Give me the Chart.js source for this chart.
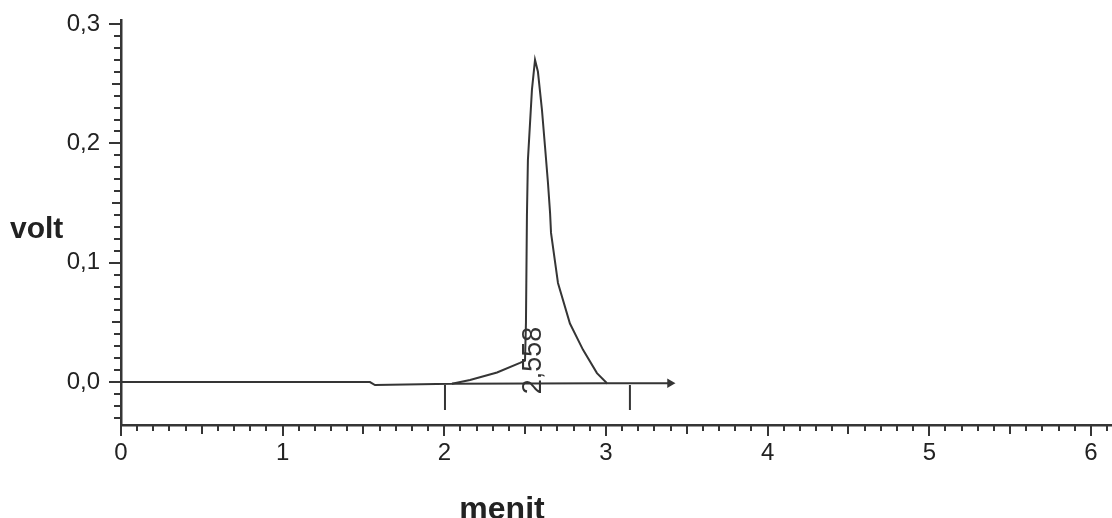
<!DOCTYPE html>
<html>
<head>
<meta charset="utf-8">
<script src="https://cdn.jsdelivr.net/npm/chart.js@4.4.0/dist/chart.umd.min.js"></script>
<style>
  html, body { margin: 0; padding: 0; background: #fff; overflow: hidden; }
  /* 6px lebih lebar: ruang label "6" jatuh di luar jendela */
  #wrap { width: 1118px; height: 518px; position: relative; }
</style>
</head>
<body>
<div id="wrap"><canvas id="kromatogram"></canvas></div>
<script>
// data kromatogram: waktu (menit) dan sinyal (volt)
const waktu = [0, 1.540, 1.571, 2.047, 2.159, 2.326, 2.468, 2.499, 2.505, 2.511, 2.517, 2.542, 2.561,
  2.579, 2.604, 2.623, 2.641, 2.654, 2.660, 2.703, 2.777, 2.858, 2.944, 3.006, 3.396];
const sinyal = [0, 0, -0.0025, -0.0015, 0.0017, 0.008, 0.016, 0.018, 0.05, 0.14, 0.186, 0.245, 0.270,
  0.260, 0.228, 0.197, 0.167, 0.142, 0.125, 0.083, 0.049, 0.027, 0.0075, -0.001, -0.001];

// garis dasar integrasi puncak
const dasarX = [2.047, 3.006];
const dasarY = [-0.0015, -0.001];

// penanda awal/akhir integrasi
const penandaX = [2.004, 3.148];
const penandaY = [-0.0025, -0.0235];

// label waktu retensi
const puncakRT = 2.558;
const puncakY = 0.018;
const puncakLabel = '2,558';

const xTicks = [0, 1, 2, 3, 4, 5, 6];
const yTicks = [0, 0.1, 0.2, 0.3];

const warna = '#353535';
const fontAngka = { family: 'Liberation Sans, Arial, sans-serif', size: 24 };

const dataSinyal = waktu.map(function (t, i) { return { x: t, y: sinyal[i] }; });
const dataDasar = dasarX.map(function (t, i) { return { x: t, y: dasarY[i] }; });
const dataPenanda = [];
penandaX.forEach(function (t, i) {
  if (i > 0) dataPenanda.push({ x: t, y: null });
  dataPenanda.push({ x: t, y: penandaY[0] });
  dataPenanda.push({ x: t, y: penandaY[1] });
});

// ticks kecil, judul sumbu dan label puncak
const pluginSumbu = {
  id: 'pluginSumbu',
  afterDraw: function (chart) {
    const ctx = chart.ctx;
    const sx = chart.scales.x;
    const sy = chart.scales.y;
    const area = chart.chartArea;
    ctx.save();
    ctx.strokeStyle = warna;
    ctx.lineWidth = 2;
    // sumbu x: tiap 0,1 menit
    for (let i = 0; i <= 61; i++) {
      const px = Math.round(sx.getPixelForValue(i / 10));
      const len = i % 10 === 0 ? 11 : (i % 5 === 0 ? 9 : 6);
      ctx.beginPath();
      ctx.moveTo(px, area.bottom);
      ctx.lineTo(px, area.bottom + len);
      ctx.stroke();
    }
    // sumbu y: tiap 0,01 volt
    for (let i = -3; i <= 30; i++) {
      const py = Math.round(sy.getPixelForValue(i / 100));
      const len = i % 10 === 0 ? 12 : (i % 5 === 0 ? 9 : 7);
      ctx.beginPath();
      ctx.moveTo(area.left - len, py);
      ctx.lineTo(area.left, py);
      ctx.stroke();
    }

    ctx.fillStyle = '#222';
    ctx.font = 'bold 30px Liberation Sans, Arial, sans-serif';
    ctx.textAlign = 'left';
    ctx.textBaseline = 'alphabetic';
    ctx.fillText('volt', 10, 238);

    ctx.font = 'bold 32px Liberation Sans, Arial, sans-serif';
    ctx.textAlign = 'center';
    ctx.fillText('menit', area.left + 381, 519);

    // label waktu retensi, diputar
    ctx.fillStyle = '#333';
    ctx.font = '27px Liberation Sans, Arial, sans-serif';
    ctx.translate(sx.getPixelForValue(puncakRT) - 1, sy.getPixelForValue(puncakY));
    ctx.rotate(-Math.PI / 2);
    ctx.textAlign = 'center';
    ctx.textBaseline = 'middle';
    ctx.fillText(puncakLabel, 0, 0);
    ctx.restore();
  }
};

new Chart(document.getElementById('kromatogram'), {
  type: 'scatter',
  data: {
    datasets: [{
      label: 'sinyal',
      data: dataSinyal,
      showLine: true,
      borderColor: warna,
      borderWidth: 2,
      tension: 0,
      pointStyle: 'triangle',
      rotation: 90,
      pointRadius: dataSinyal.map(function (p, i) { return i === dataSinyal.length - 1 ? 3.5 : 0; }),
      pointBackgroundColor: warna,
      pointBorderColor: warna
    }, {
      label: 'garis dasar',
      data: dataDasar,
      showLine: true,
      borderColor: warna,
      borderWidth: 2,
      pointRadius: 0
    }, {
      label: 'penanda',
      data: dataPenanda,
      showLine: true,
      spanGaps: false,
      borderColor: warna,
      borderWidth: 2,
      pointRadius: 0
    }]
  },
  options: {
    responsive: true,
    maintainAspectRatio: false,
    animation: false,
    layout: { padding: { top: 20, right: 0, bottom: 0, left: 0 } },
    plugins: {
      legend: { display: false },
      tooltip: { enabled: false }
    },
    scales: {
      x: {
        type: 'linear',
        min: 0,
        max: 6.13,
        afterFit: function (scale) {
          scale.height = 93;
          scale.paddingLeft = 0;
          scale.paddingRight = 0;
        },
        afterBuildTicks: function (scale) {
          scale.ticks = xTicks.map(function (v) { return { value: v }; });
        },
        grid: { display: false, drawTicks: false },
        border: { display: true, color: warna, width: 2.5 },
        ticks: {
          autoSkip: false,
          maxRotation: 0,
          padding: 14,
          color: '#222',
          font: fontAngka,
          callback: function (v) { return String(v); }
        }
      },
      y: {
        type: 'linear',
        min: -0.036,
        max: 0.3034,
        afterFit: function (scale) {
          scale.width = 121;
          scale.paddingTop = 0;
          scale.paddingBottom = 0;
        },
        afterBuildTicks: function (scale) {
          scale.ticks = yTicks.map(function (v) { return { value: v }; });
        },
        grid: { display: false, drawTicks: false },
        border: { display: true, color: warna, width: 2.5 },
        ticks: {
          padding: 21,
          color: '#222',
          font: fontAngka,
          callback: function (v) { return v.toFixed(1).replace('.', ','); }
        }
      }
    }
  },
  plugins: [pluginSumbu]
});
</script>
</body>
</html>
